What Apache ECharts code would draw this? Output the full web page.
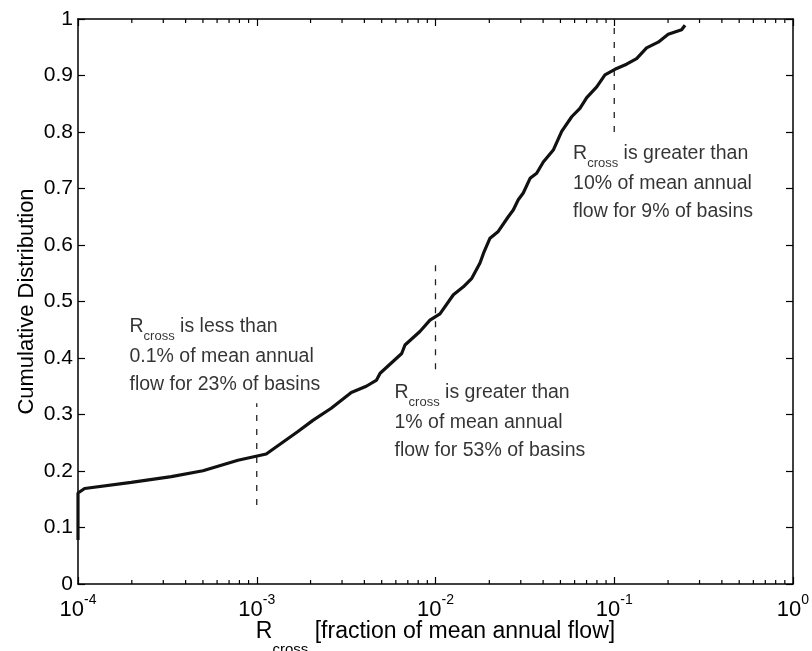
<!DOCTYPE html>
<html>
<head>
<meta charset="utf-8">
<script src="https://cdn.jsdelivr.net/npm/echarts@6/dist/echarts.min.js"></script>
<style>
  html, body { margin: 0; background: #fff; }
  #chart { width: 812px; height: 651px; }
</style>
</head>
<body>
<div id="chart"></div>
<script>
// R_cross (fraction of mean annual flow) and cumulative distribution
const rCross = [1e-4, 1e-4, 1.089e-4, 1.986e-4, 3.327e-4, 5.0e-4, 7.85e-4, 1.13e-3, 1.70e-3, 2.07e-3,
  2.61e-3, 3.38e-3, 4.10e-3, 4.68e-3, 4.90e-3, 6.47e-3, 6.75e-3, 8.18e-3, 9.31e-3, 1.059e-2,
  1.259e-2, 1.432e-2, 1.596e-2, 1.774e-2, 1.854e-2, 2.018e-2, 2.244e-2, 2.553e-2, 2.723e-2, 2.904e-2,
  3.097e-2, 3.381e-2, 3.681e-2, 4.009e-2, 4.560e-2, 5.082e-2, 5.781e-2, 6.427e-2, 7.015e-2, 7.980e-2,
  8.872e-2, 0.1009, 0.1172, 0.1334, 0.1517, 0.1762, 0.2004, 0.2382, 0.2489];
const cdf = [0.078, 0.161, 0.169, 0.180, 0.190, 0.2005, 0.219, 0.230, 0.270, 0.290,
  0.311, 0.339, 0.350, 0.361, 0.373, 0.408, 0.423, 0.447, 0.467, 0.478,
  0.512, 0.526, 0.541, 0.568, 0.585, 0.612, 0.624, 0.650, 0.662, 0.680,
  0.692, 0.718, 0.727, 0.747, 0.768, 0.801, 0.827, 0.842, 0.861, 0.880,
  0.901, 0.911, 0.920, 0.930, 0.949, 0.959, 0.973, 0.981, 0.989];

// dashed markers at 0.1%, 1% and 10%
const markX = [1e-3, 1e-2, 1e-1];
const markLo = [0.14, 0.38, 0.80];
const markHi = [0.32, 0.57, 1.0];

// annotations (top-left corner of each text block, in data units)
const noteX = [1.954e-4, 5.935e-3, 0.0592];
const noteY = [0.472, 0.355, 0.778];
const noteHead = [' is less than', ' is greater than', ' is greater than'];
const noteBody = [
  ['0.1% of mean annual', 'flow for 23% of basins'],
  ['1% of mean annual', 'flow for 53% of basins'],
  ['10% of mean annual', 'flow for 9% of basins']
];

// minor ticks of the log axis
const decades = [1e-4, 1e-3, 1e-2, 1e-1];
const minorTicks = [];
decades.forEach(d => { for (let m = 2; m <= 9; m++) minorTicks.push(m * d); });

const FONT = '"Liberation Sans", Arial, Helvetica, sans-serif';
const INK = '#000';

const frameLine = { show: true, onZero: false, lineStyle: { color: '#000', width: 1.5 } };
const frameTick = { show: true, inside: true, length: 7, lineStyle: { color: '#000', width: 1.2 } };

function noteText(i) {
  return '{h|R}{s|cross}{h|' + noteHead[i] + '}\n{b|' + noteBody[i][0] + '}\n{b|' + noteBody[i][1] + '}';
}

const chart = echarts.init(document.getElementById('chart'), null, { renderer: 'canvas' });

const series = [
  {
    type: 'line',
    data: rCross.map((x, i) => [x, cdf[i]]),
    symbol: 'none',
    lineStyle: { color: '#111', width: 3.2 },
    z: 3
  }
];
markX.forEach((x, i) => {
  series.push({
    type: 'line',
    data: [[x, markLo[i]], [x, markHi[i]]],
    symbol: 'none',
    lineStyle: { color: '#222', width: 1.3, type: [6, 8] },
    z: 2
  });
});
series.push({
  type: 'custom',
  data: minorTicks.map(v => [v, 0]),
  renderItem: function (params, api) {
    const b = api.coord([api.value(0), 0]);
    const t = api.coord([api.value(0), 1]);
    return {
      type: 'group',
      children: [
        { type: 'line', shape: { x1: b[0], y1: b[1], x2: b[0], y2: b[1] - 4 }, style: { stroke: '#000', lineWidth: 1.2 } },
        { type: 'line', shape: { x1: t[0], y1: t[1], x2: t[0], y2: t[1] + 4 }, style: { stroke: '#000', lineWidth: 1.2 } }
      ]
    };
  },
  z: 4
});
series.push({
  type: 'scatter',
  symbolSize: 1,
  itemStyle: { color: 'rgba(0,0,0,0)' },
  data: noteX.map((x, i) => ({ value: [x, noteY[i]], label: { formatter: noteText(i) } })),
  label: {
    show: true,
    position: [0, 0],
    align: 'left',
    verticalAlign: 'top',
    fontFamily: FONT,
    color: INK,
    rich: {
      h: { fontFamily: FONT, fontSize: 19.5, lineHeight: 26, verticalAlign: 'top', color: INK },
      s: { fontFamily: FONT, fontSize: 13, lineHeight: 14, padding: [13, 0, 5, 0], verticalAlign: 'top', color: INK },
      b: { fontFamily: FONT, fontSize: 19.5, lineHeight: 28, color: INK }
    }
  },
  z: 5
});

const option = {
  backgroundColor: '#fff',
  animation: false,
  textStyle: { fontFamily: FONT, color: INK },
  grid: { left: 78, right: 19, top: 19, bottom: 67, containLabel: false, outerBoundsMode: 'none' },
  xAxis: [
    {
      type: 'log',
      logBase: 10,
      min: 1e-4,
      max: 1,
      position: 'bottom',
      axisLine: frameLine,
      axisTick: frameTick,
      splitLine: { show: false },
      axisLabel: {
        margin: 9,
        showMinLabel: true,
        showMaxLabel: true,
        formatter: function (v) {
          return '{b|10}{s|' + Math.round(Math.log10(v)) + '}';
        },
        rich: {
          b: { fontFamily: FONT, fontSize: 22, lineHeight: 22, padding: [6, 0, 0, 0], verticalAlign: 'top', color: INK },
          s: { fontFamily: FONT, fontSize: 14, lineHeight: 12, verticalAlign: 'top', color: INK }
        }
      },
      name: '{r|R}{s|cross}{r| [fraction of mean annual flow]}',
      nameLocation: 'middle',
      nameGap: 36,
      nameMoveOverlap: false,
      nameTextStyle: {
        rich: {
          r: { fontFamily: FONT, fontSize: 23, lineHeight: 26, verticalAlign: 'top', color: INK },
          s: { fontFamily: FONT, fontSize: 15, lineHeight: 15, padding: [22, 0, 0, 0], verticalAlign: 'top', color: INK }
        }
      }
    },
    {
      type: 'log',
      logBase: 10,
      min: 1e-4,
      max: 1,
      position: 'top',
      axisLine: frameLine,
      axisTick: frameTick,
      axisLabel: { show: false },
      splitLine: { show: false }
    }
  ],
  yAxis: [
    {
      type: 'value',
      min: 0,
      max: 1,
      interval: 0.1,
      position: 'left',
      axisLine: frameLine,
      axisTick: frameTick,
      splitLine: { show: false },
      axisLabel: { margin: 5, fontFamily: FONT, fontSize: 21, color: INK },
      name: 'Cumulative Distribution',
      nameLocation: 'middle',
      nameGap: 40,
      nameMoveOverlap: false,
      nameTextStyle: { fontFamily: FONT, fontSize: 22, color: INK }
    },
    {
      type: 'value',
      min: 0,
      max: 1,
      interval: 0.1,
      position: 'right',
      axisLine: frameLine,
      axisTick: frameTick,
      axisLabel: { show: false },
      splitLine: { show: false }
    }
  ],
  series: series
};

chart.setOption(option);
</script>
</body>
</html>
